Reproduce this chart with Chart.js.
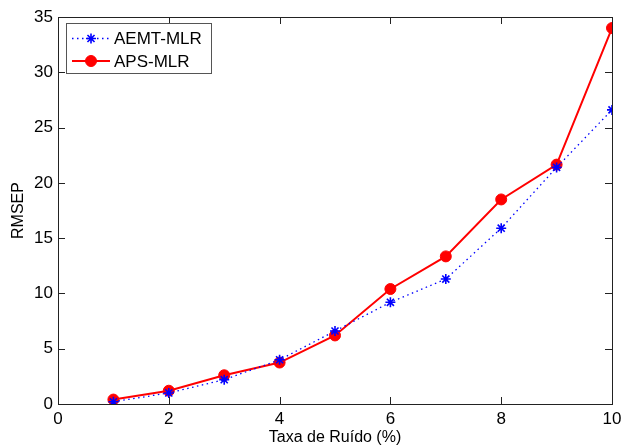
<!DOCTYPE html>
<html>
<head>
<meta charset="utf-8">
<script src="https://cdn.jsdelivr.net/npm/chart.js@4/dist/chart.umd.min.js"></script>
<style>
  html, body { margin: 0; padding: 0; background: #fff; }
  #wrap { width: 621px; height: 448px; }
</style>
</head>
<body>
<div id="wrap"><canvas id="rmsepChart"></canvas></div>
<script>
// Noise rate (%) and RMSEP for both methods
const noiseRates = [1, 2, 3, 4, 5, 6, 7, 8, 9, 10];
const aemtMlr = [0.2, 1.0, 2.2, 4.0, 6.6, 9.2, 11.3, 15.9, 21.4, 26.6];
const apsMlr = [0.4, 1.2, 2.6, 3.75, 6.2, 10.4, 13.35, 18.5, 21.65, 34.0];

const xTicks = [0, 2, 4, 6, 8, 10];
const yTicks = [0, 5, 10, 15, 20, 25, 30, 35];

const FONT = "'Liberation Sans', Arial, Helvetica, sans-serif";
const toPoints = (ys) => noiseRates.map((x, i) => ({ x: x, y: ys[i] }));

// Box frame, inward ticks on all four sides and the in-plot legend
const boxPlot = {
    id: 'boxPlot',
    afterDraw(chart) {
        const { ctx, chartArea: a, scales } = chart;
        const tick = 7;
        ctx.save();
        ctx.strokeStyle = '#222';
        ctx.lineWidth = 1;
        ctx.strokeRect(Math.round(a.left) + 0.5, Math.round(a.top) + 0.5,
            Math.round(a.right - a.left), Math.round(a.bottom - a.top));
        ctx.beginPath();
        xTicks.forEach(v => {
            const px = Math.round(scales.x.getPixelForValue(v)) + 0.5;
            ctx.moveTo(px, a.bottom); ctx.lineTo(px, a.bottom - tick);
            ctx.moveTo(px, a.top); ctx.lineTo(px, a.top + tick);
        });
        yTicks.forEach(v => {
            const py = Math.round(scales.y.getPixelForValue(v)) + 0.5;
            ctx.moveTo(a.left, py); ctx.lineTo(a.left + tick, py);
            ctx.moveTo(a.right, py); ctx.lineTo(a.right - tick, py);
        });
        ctx.stroke();

        // legend
        const lx = 66, ly = 23, lw = 145, lh = 50;
        ctx.fillStyle = '#fff';
        ctx.fillRect(lx, ly, lw, lh);
        ctx.strokeStyle = '#555';
        ctx.strokeRect(lx + 0.5, ly + 0.5, lw, lh);
        chart.data.datasets.forEach((ds, i) => {
            const cy = ly + 15.5 + i * 22.5;
            ctx.save();
            ctx.strokeStyle = ds.borderColor;
            ctx.lineWidth = ds.borderWidth;
            ctx.setLineDash(ds.borderDash || []);
            ctx.beginPath();
            ctx.moveTo(lx + 6, cy); ctx.lineTo(lx + 44, cy);
            ctx.stroke();
            ctx.setLineDash([]);
            ctx.fillStyle = ds.pointBackgroundColor;
            ctx.strokeStyle = ds.pointBorderColor;
            ctx.lineWidth = ds.pointBorderWidth;
            Chart.helpers.drawPoint(ctx, {
                pointStyle: ds.pointStyle, radius: ds.pointRadius,
                rotation: 0, borderWidth: ds.pointBorderWidth
            }, lx + 25, cy);
            ctx.restore();
            ctx.fillStyle = '#000';
            ctx.font = '17px ' + FONT;
            ctx.textBaseline = 'middle';
            ctx.fillText(ds.label, lx + 48, cy + 1);
        });
        ctx.restore();
    }
};

new Chart(document.getElementById('rmsepChart'), {
    type: 'line',
    data: {
        datasets: [{
            label: 'AEMT-MLR',
            data: toPoints(aemtMlr),
            borderColor: '#0000ff',
            borderWidth: 1.3,
            borderDash: [1.5, 3.5],
            pointStyle: 'star',
            pointRadius: 5,
            pointBorderWidth: 1.6,
            pointBackgroundColor: '#0000ff',
            pointBorderColor: '#0000ff',
            tension: 0
        }, {
            label: 'APS-MLR',
            data: toPoints(apsMlr),
            borderColor: '#ff0000',
            borderWidth: 2,
            pointStyle: 'circle',
            pointRadius: 5.5,
            pointBorderWidth: 1,
            pointBackgroundColor: '#ff0000',
            pointBorderColor: '#ff0000',
            tension: 0
        }]
    },
    options: {
        responsive: true,
        maintainAspectRatio: false,
        animation: false,
        layout: { padding: { top: 17, right: 9, left: 0, bottom: 0 } },
        plugins: { legend: { display: false }, tooltip: { enabled: false } },
        scales: {
            x: {
                type: 'linear',
                min: 0, max: 10,
                afterFit: (s) => { s.height = 44; s.paddingLeft = 0; s.paddingRight = 0; },
                afterBuildTicks: (s) => { s.ticks = xTicks.map(v => ({ value: v })); },
                grid: { display: false, drawTicks: false },
                border: { display: false },
                ticks: { color: '#000', padding: 5, maxRotation: 0, font: { family: FONT, size: 17 } },
                title: {
                    display: true, text: 'Taxa de Ruído (%)', color: '#000',
                    font: { family: FONT, size: 16, lineHeight: 1.2 },
                    padding: { top: 0, bottom: 1 }
                }
            },
            y: {
                min: 0, max: 35,
                afterFit: (s) => { s.width = 58; s.paddingTop = 0; s.paddingBottom = 0; },
                afterBuildTicks: (s) => { s.ticks = yTicks.map(v => ({ value: v })); },
                grid: { display: false, drawTicks: false },
                border: { display: false },
                ticks: { color: '#000', padding: 5, font: { family: FONT, size: 17 } },
                title: {
                    display: true, text: 'RMSEP', color: '#000',
                    font: { family: FONT, size: 16, lineHeight: 1.2 },
                    padding: { top: 9, bottom: 0 }
                }
            }
        }
    },
    plugins: [boxPlot]
});
</script>
</body>
</html>
